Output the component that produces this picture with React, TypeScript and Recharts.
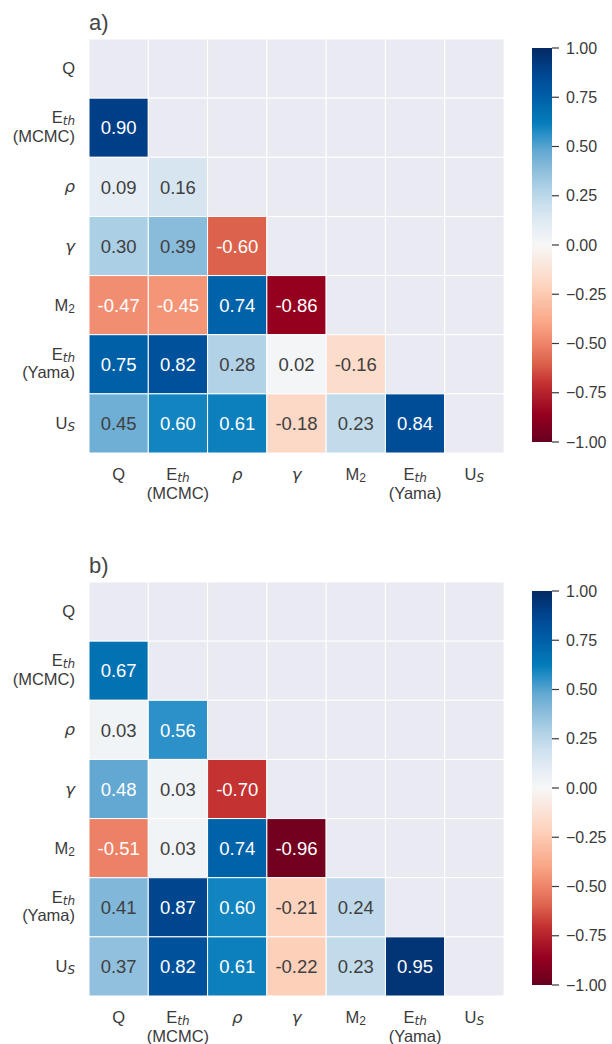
import { Bar, BarChart, Scatter, ScatterChart, XAxis, YAxis } from "recharts";

const FONT = '"Liberation Sans", Arial, sans-serif';
const MATH = '"DejaVu Sans", sans-serif';
const TEXT = "#3a3a3a";
const EMPTY = "#eaeaf2";

type Label = { main: string; italic?: boolean; sub?: string; subItalic?: boolean; line2?: string };

const LABELS: Label[] = [
  { main: "Q" },
  { main: "E", sub: "th", subItalic: true, line2: "(MCMC)" },
  { main: "ρ", italic: true },
  { main: "γ", italic: true },
  { main: "M", sub: "2" },
  { main: "E", sub: "th", subItalic: true, line2: "(Yama)" },
  { main: "U", sub: "S", subItalic: true },
];

// lower triangle, row by row
const CORR_A: number[][] = [
  [],
  [0.9],
  [0.09, 0.16],
  [0.3, 0.39, -0.6],
  [-0.47, -0.45, 0.74, -0.86],
  [0.75, 0.82, 0.28, 0.02, -0.16],
  [0.45, 0.6, 0.61, -0.18, 0.23, 0.84],
];

const CORR_B: number[][] = [
  [],
  [0.67],
  [0.03, 0.56],
  [0.48, 0.03, -0.7],
  [-0.51, 0.03, 0.74, -0.96],
  [0.41, 0.87, 0.6, -0.21, 0.24],
  [0.37, 0.82, 0.61, -0.22, 0.23, 0.95],
];

const CBAR_TICKS = [-1, -0.75, -0.5, -0.25, 0, 0.25, 0.5, 0.75, 1];
const CBAR_DATA = [{ name: "cbar", range: [-1, 1] }];

// red-white-blue map
const CMAP: [number, string][] = [
  [-1, "#67001f"],
  [-0.86, "#95001f"],
  [-0.7, "#c43232"],
  [-0.6, "#dc624c"],
  [-0.5, "#ee8468"],
  [-0.4, "#f9a585"],
  [-0.2, "#fdd5c0"],
  [0, "#f7f7f7"],
  [0.1, "#e4ecf4"],
  [0.2, "#cce0ee"],
  [0.3, "#abcfe5"],
  [0.4, "#85b9da"],
  [0.48, "#62a8d2"],
  [0.56, "#2c91c8"],
  [0.62, "#057dba"],
  [0.74, "#0062a8"],
  [0.82, "#00519c"],
  [0.9, "#003f87"],
  [1, "#052a62"],
];
const WHITE_ABOVE = 0.46;
const WHITE_BELOW = -0.3;

const CHART_W = 520;
const CHART_H = 520;
const PLOT_W = 415;
const PLOT_H = 414;
const CELL_W = PLOT_W / LABELS.length;
const CELL_H = PLOT_H / LABELS.length;
const TICK_POS = LABELS.map((_, i) => i + 0.5);

const hex = (h: string) => [1, 3, 5].map((i) => parseInt(h.slice(i, i + 2), 16));

function colorOf(v: number) {
  let i = 0;
  while (i < CMAP.length - 2 && v > CMAP[i + 1][0]) i++;
  const [v0, c0] = CMAP[i];
  const [v1, c1] = CMAP[i + 1];
  const f = Math.max(0, Math.min(1, (v - v0) / (v1 - v0)));
  const a = hex(c0);
  const b = hex(c1);
  return `rgb(${a.map((c, k) => Math.round(c + (b[k] - c) * f)).join(",")})`;
}

function buildCells(corr: number[][]) {
  const cells: { x: number; y: number; value: number | null }[] = [];
  LABELS.forEach((_, r) =>
    LABELS.forEach((_, c) => {
      cells.push({ x: c + 0.5, y: r + 0.5, value: c < r ? corr[r][c] : null });
    })
  );
  return cells;
}

const CellShape = (props: any) => {
  const { cx, cy, payload } = props;
  const v: number | null = payload.value;
  const fill = v == null ? EMPTY : colorOf(v);
  const white = v != null && (v > WHITE_ABOVE || v < WHITE_BELOW);
  return (
    <g>
      <rect
        x={cx - CELL_W / 2}
        y={cy - CELL_H / 2}
        width={CELL_W}
        height={CELL_H}
        fill={fill}
        stroke="#ffffff"
        strokeWidth={1}
      />
      {v != null && (
        <text
          x={cx}
          y={cy}
          dy="0.36em"
          textAnchor="middle"
          fontSize={18.5}
          fontFamily={FONT}
          fill={white ? "#ffffff" : "#404040"}
        >
          {v.toFixed(2)}
        </text>
      )}
    </g>
  );
};

function labelParts(lab: Label) {
  return [
    <tspan key="m" fontFamily={lab.italic ? MATH : FONT} fontStyle={lab.italic ? "italic" : "normal"}>
      {lab.main}
    </tspan>,
    lab.sub ? (
      <tspan
        key="s"
        dy={2}
        fontSize={12}
        fontFamily={lab.subItalic ? MATH : FONT}
        fontStyle={lab.subItalic ? "italic" : "normal"}
      >
        {lab.sub}
      </tspan>
    ) : null,
  ];
}

const XTick = ({ x, y, payload }: any) => {
  const lab = LABELS[Math.round(payload.value - 0.5)];
  return (
    <g transform={`translate(${x},${y})`}>
      <text textAnchor="middle" fontSize={16.5} fontFamily={FONT} fill={TEXT}>
        <tspan x={0} y={26.5}>{labelParts(lab)}</tspan>
        {lab.line2 && (
          <tspan x={0} y={45.5}>
            {lab.line2}
          </tspan>
        )}
      </text>
    </g>
  );
};

const YTick = ({ x, y, payload }: any) => {
  const lab = LABELS[Math.round(payload.value - 0.5)];
  return (
    <g transform={`translate(${x},${y})`}>
      <text textAnchor="end" fontSize={16.5} fontFamily={FONT} fill={TEXT}>
        <tspan x={-14} y={lab.line2 ? -4.5 : 5.5}>{labelParts(lab)}</tspan>
        {lab.line2 && (
          <tspan x={-14} y={14}>
            {lab.line2}
          </tspan>
        )}
      </text>
    </g>
  );
};

const fmtCbar = (v: number) => v.toFixed(2).replace("-", "\u2212");

function Panel({ title, corr, top, id }: { title: string; corr: number[][]; top: number; id: string }) {
  const cells = buildCells(corr);
  return (
    <>
      <div
        style={{
          position: "absolute",
          left: 89,
          top: top + 10,
          fontSize: 22,
          fontFamily: FONT,
          color: "#444444",
          lineHeight: "26px",
        }}
      >
        {title}
      </div>
      <div style={{ position: "absolute", left: 0, top }}>
        <ScatterChart width={CHART_W} height={CHART_H} margin={{ top: 39, right: 16, bottom: 0, left: 0 }}>
          <XAxis
            type="number"
            dataKey="x"
            domain={[0, LABELS.length]}
            ticks={TICK_POS}
            interval={0}
            height={67}
            tickSize={0}
            tickMargin={0}
            axisLine={false}
            tickLine={false}
            tick={<XTick />}
          />
          <YAxis
            type="number"
            dataKey="y"
            domain={[0, LABELS.length]}
            reversed
            ticks={TICK_POS}
            interval={0}
            width={89}
            tickSize={0}
            tickMargin={0}
            axisLine={false}
            tickLine={false}
            tick={<YTick />}
          />
          <Scatter data={cells} shape={<CellShape />} isAnimationActive={false} />
        </ScatterChart>
      </div>
      <div style={{ position: "absolute", left: 532, top: top + 38 }}>
        <BarChart width={80} height={414} data={CBAR_DATA} barCategoryGap={0} margin={{ top: 10, right: 0, bottom: 10, left: 0 }}>
          <defs>
            <linearGradient id={id} x1="0" y1="1" x2="0" y2="0">
              {CMAP.map(([v, c]) => (
                <stop key={v} offset={(v + 1) / 2} stopColor={c} />
              ))}
            </linearGradient>
          </defs>
          <XAxis dataKey="name" hide />
          <YAxis
            orientation="right"
            type="number"
            domain={[-1, 1]}
            ticks={CBAR_TICKS}
            interval={0}
            width={60}
            tickSize={7}
            tickMargin={7}
            axisLine={false}
            tickLine={{ stroke: "#3a3a3a", strokeWidth: 1.2 }}
            tickFormatter={fmtCbar}
            tick={{ fill: TEXT, fontSize: 16, fontFamily: FONT }}
          />
          <Bar dataKey="range" fill={`url(#${id})`} isAnimationActive={false} />
        </BarChart>
      </div>
    </>
  );
}

export default function App() {
  return (
    <div style={{ position: "absolute", left: 0, top: 0, width: 612, height: 1044, background: "#ffffff" }}>
      <Panel title="a)" corr={CORR_A} top={0} id="rdbuA" />
      <Panel title="b)" corr={CORR_B} top={543} id="rdbuB" />
    </div>
  );
}
